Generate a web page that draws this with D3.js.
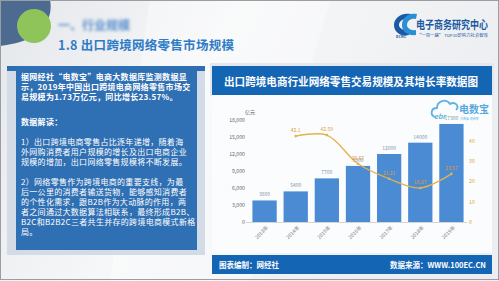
<!DOCTYPE html>
<html>
<head>
<meta charset="utf-8">
<script src="https://cdnjs.cloudflare.com/ajax/libs/d3/7.8.5/d3.min.js"></script>
<style>
  body { margin: 0; padding: 0; overflow: hidden; background: #fff; }
  svg text { font-family: "Noto Sans CJK SC", "Noto Sans", sans-serif; }
</style>
</head>
<body>
<div id="slide"></div>
<script>
// chart data
var years = ["2013年", "2014年", "2015年", "2016年", "2017年", "2018年", "2019年"];
var retailScale = [3800, 5400, 7700, 9900, 12000, 14000, 17300];   // 亿元
var growthRate = [null, 42.1, 42.59, 28.57, 21.21, 16.67, 23.57];  // %
var leftTicks = [0, 3000, 6000, 9000, 12000, 15000, 18000];
var rightTicks = [0, 10, 20, 30, 40];

var pageTitle = "1.8  出口跨境网络零售市场规模";
var chartTitle = "出口跨境电商行业网络零售交易规模及其增长率数据图";
var summaryLines = [
  "据网经社“电数宝”电商大数据库监测数据显",
  "示，2019年中国出口跨境电商网络零售市场交",
  "易规模为1.73万亿元，同比增长23.57%。"
];
var readingTitle = "数据解读：";
var readingLines1 = [
  "1）出口跨境电商零售占比逐年递增，随着海",
  "外网购消费者用户规模的增长及出口电商企业",
  "规模的增加，出口网络零售规模将不断发展。"
];
var readingLines2 = [
  "2）网络零售作为跨境电商的重要支线，为最",
  "后一公里的消费者输送货物，能够感知消费者",
  "的个性化需求，跟B2B作为大动脉的作用，两",
  "者之间通过大数据算法相联系，最终形成B2B、",
  "B2C和B2B2C三者共生并存的跨境电商模式新格",
  "局。"
];

Slide = function(_parentElement) {
  this.parentElement = _parentElement;
  this.width = 499;
  this.height = 281;
  this.initVis();
}

Slide.prototype.initVis = function() {
  var vis = this;

  vis.svg = d3.select("#" + vis.parentElement)
    .append("svg")
    .attr("width", vis.width)
    .attr("height", vis.height);

  var defs = vis.svg.append("defs");
  var grad = defs.append("linearGradient").attr("id", "bg")
    .attr("x1", "0").attr("y1", "0").attr("x2", "1").attr("y2", "0.3");
  grad.append("stop").attr("offset", "0").attr("stop-color", "#e4e7eb");
  grad.append("stop").attr("offset", "0.45").attr("stop-color", "#f6f7f8");
  grad.append("stop").attr("offset", "1").attr("stop-color", "#eceef1");
  defs.append("filter").attr("id", "blur")
    .append("feGaussianBlur").attr("stdDeviation", 1.6);

  vis.drawBackground();
  vis.drawTextPanel();
  vis.drawChart();
}

Slide.prototype.drawBackground = function() {
  var vis = this;
  var svg = vis.svg;

  svg.append("rect").attr("width", vis.width).attr("height", vis.height).attr("fill", "url(#bg)");
  svg.append("path").attr("d", "M150,0 L330,0 L250,281 L110,281 Z").attr("fill", "#ffffff").attr("opacity", 0.35);

  // top left decoration
  svg.append("path")
    .attr("d", "M0,0 L50,0 C53,14 46,30 30,38 C20,43 8,45 0,46 Z")
    .attr("fill", "#4d6a91");
  svg.append("circle").attr("cx", 34).attr("cy", 26).attr("r", 17).attr("fill", "#8fc45a");

  // blurred section header
  svg.append("text")
    .attr("x", 58).attr("y", 30)
    .attr("font-size", 12).attr("font-weight", "bold")
    .attr("fill", "#5a90cc")
    .attr("filter", "url(#blur)")
    .text("一、行业规模");

  svg.append("text")
    .attr("x", 58).attr("y", 50)
    .attr("font-size", 12.5).attr("font-weight", "bold")
    .attr("fill", "#2f7cc6")
    .attr("textLength", 176).attr("lengthAdjust", "spacing")
    .text(pageTitle);

  // ECRC logo
  var logo = svg.append("g");
  logo.append("path")
    .attr("d", "M411,14 C400,12 394,19 394,25 C394,32 401,37 409,35 L409,30 C403,31 399,28 399,25 C399,21 404,18 409,19 Z")
    .attr("fill", "#1b5aa3");
  logo.append("path")
    .attr("d", "M417,14 C407,12 402,19 402,25 C402,32 408,36 416,35 L416,30 C411,31 407,28 407,25 C407,21 411,18 416,19 Z")
    .attr("fill", "#2a8fd6");
  logo.append("text")
    .attr("transform", "translate(416,29) scale(1,1.3)")
    .attr("font-size", 9).attr("font-weight", "bold").attr("fill", "#1b5aa3")
    .attr("textLength", 72).attr("lengthAdjust", "spacingAndGlyphs")
    .text("电子商务研究中心");
  logo.append("text")
    .attr("x", 396).attr("y", 37.5)
    .attr("font-size", 4).attr("font-weight", "bold").attr("fill", "#1b5aa3")
    .text("ECRC");
  logo.append("text")
    .attr("x", 417).attr("y", 37)
    .attr("font-size", 4).attr("fill", "#1b5aa3")
    .attr("textLength", 71).attr("lengthAdjust", "spacingAndGlyphs")
    .text("“一带一路” TOP10影响力社会智库");

  // outer frame
  svg.append("rect")
    .attr("x", 0.5).attr("y", 0.5).attr("width", vis.width - 1).attr("height", vis.height - 2)
    .attr("fill", "none").attr("stroke", "#9a9ea3").attr("stroke-width", 1);
}

Slide.prototype.drawTextPanel = function() {
  var vis = this;
  var svg = vis.svg;

  svg.append("rect").attr("x", 7).attr("y", 66).attr("width", 198).attr("height", 189).attr("fill", "#d3dce6");
  svg.append("rect").attr("x", 7).attr("y", 66).attr("width", 198).attr("height", 5).attr("fill", "#2d6db3");
  svg.append("rect").attr("x", 16).attr("y", 66).attr("width", 181).attr("height", 184).attr("fill", "#2f6fb3");

  var addLines = function(lines, y0, bold) {
    svg.selectAll(null)
      .data(lines)
      .enter().append("text")
      .attr("x", 21)
      .attr("y", function(d, i) { return y0 + i * 10; })
      .attr("font-size", 8)
      .attr("letter-spacing", 0.3)
      .attr("font-weight", bold ? "bold" : "normal")
      .attr("fill", "#ffffff")
      .text(function(d) { return d; });
  }

  addLines(summaryLines, 80, true);
  addLines([readingTitle], 125, true);
  addLines(readingLines1, 145, false);
  addLines(readingLines2, 185, false);
}

Slide.prototype.drawChart = function() {
  var vis = this;
  var svg = vis.svg;

  // header, chart area, footer
  svg.append("rect").attr("x", 210).attr("y", 63).attr("width", 284).attr("height", 33).attr("fill", "#e3e8ee");
  svg.append("rect").attr("x", 212).attr("y", 66).attr("width", 280).attr("height", 29).attr("fill", "#1565b5");
  svg.append("text")
    .attr("x", 351).attr("y", 85.5)
    .attr("text-anchor", "middle")
    .attr("font-size", 11).attr("font-weight", "bold").attr("fill", "#ffffff")
    .attr("textLength", 254).attr("lengthAdjust", "spacingAndGlyphs")
    .text(chartTitle);
  svg.append("rect").attr("x", 212).attr("y", 95).attr("width", 280).attr("height", 158).attr("fill", "#fbfcfd");

  svg.append("rect").attr("x", 212).attr("y", 255).attr("width", 280).attr("height", 19).attr("fill", "#1565b5");
  svg.append("text")
    .attr("x", 219).attr("y", 267.5)
    .attr("font-size", 7.5).attr("font-weight", "bold").attr("fill", "#ffffff")
    .text("图表编制：网经社");
  svg.append("text")
    .attr("x", 486).attr("y", 267.5)
    .attr("text-anchor", "end")
    .attr("font-size", 7.5).attr("font-weight", "bold").attr("fill", "#ffffff")
    .text("数据来源：WWW.100EC.CN");

  // scales
  var x = d3.scaleBand().domain(years).range([249, 467]).paddingInner(0.22).paddingOuter(0.11);
  var yLeft = d3.scaleLinear().domain([0, 18000]).range([222, 120]);
  var yRight = d3.scaleLinear().domain([0, 50]).range([222, 120]);

  // left axis
  var leftAxis = svg.append("g")
    .attr("transform", "translate(246,0)")
    .call(d3.axisLeft(yLeft).tickValues(leftTicks).tickFormat(d3.format(",")).tickSize(0).tickPadding(1));
  leftAxis.select(".domain").remove();
  leftAxis.selectAll("text").attr("font-size", 5.2).attr("fill", "#666").attr("font-family", "Liberation Sans, Arial, sans-serif");
  svg.append("text")
    .attr("x", 245).attr("y", 114)
    .attr("font-size", 5).attr("fill", "#666")
    .text("亿元");

  // right axis
  var rightAxis = svg.append("g")
    .attr("transform", "translate(467,0)")
    .call(d3.axisRight(yRight).tickValues(rightTicks).tickSize(0).tickPadding(2));
  rightAxis.select(".domain").remove();
  rightAxis.selectAll("text").attr("font-size", 5.2).attr("fill", "#e2a437").attr("font-family", "Liberation Sans, Arial, sans-serif");

  // bars
  svg.selectAll(".bar")
    .data(retailScale)
    .enter().append("rect")
    .attr("class", "bar")
    .attr("x", function(d, i) { return x(years[i]); })
    .attr("y", function(d) { return yLeft(d); })
    .attr("width", x.bandwidth())
    .attr("height", function(d) { return yLeft(0) - yLeft(d); })
    .attr("fill", "#4a8bd4");

  svg.selectAll(".barLabel")
    .data(retailScale)
    .enter().append("text")
    .attr("class", "barLabel")
    .attr("x", function(d, i) { return x(years[i]) + x.bandwidth() / 2; })
    .attr("y", function(d) { return yLeft(d) - 4; })
    .attr("text-anchor", "middle")
    .attr("font-size", 5)
    .attr("fill", "#7f93ab")
    .text(function(d) { return d; });

  // baseline
  svg.append("line")
    .attr("x1", 246).attr("x2", 467)
    .attr("y1", yLeft(0) + 0.5).attr("y2", yLeft(0) + 0.5)
    .attr("stroke", "#c9c9c9").attr("stroke-width", 0.8);

  // x labels
  svg.selectAll(".xLabel")
    .data(years)
    .enter().append("text")
    .attr("class", "xLabel")
    .attr("transform", function(d) {
      return "translate(" + (x(d) + x.bandwidth() / 2 + 4) + ",228) rotate(-45)";
    })
    .attr("text-anchor", "end")
    .attr("font-size", 5)
    .attr("fill", "#777")
    .text(function(d) { return d; });

  // growth line
  var points = [];
  for (var i = 0; i < years.length; i++) {
    if (growthRate[i] != null)
      points.push({ year: years[i], value: growthRate[i] });
  }

  var line = d3.line()
    .x(function(d) { return x(d.year) + x.bandwidth() / 2; })
    .y(function(d) { return yRight(d.value); })
    .curve(d3.curveCatmullRom.alpha(0.5));

  svg.append("path")
    .datum(points)
    .attr("d", line)
    .attr("fill", "none")
    .attr("stroke", "#e2b448")
    .attr("stroke-width", 1.3);

  svg.selectAll(".dot")
    .data(points)
    .enter().append("circle")
    .attr("class", "dot")
    .attr("cx", function(d) { return x(d.year) + x.bandwidth() / 2; })
    .attr("cy", function(d) { return yRight(d.value); })
    .attr("r", 1.3)
    .attr("fill", "#e2b448");

  svg.selectAll(".lineLabel")
    .data(points)
    .enter().append("text")
    .attr("class", "lineLabel")
    .attr("x", function(d) { return x(d.year) + x.bandwidth() / 2; })
    .attr("y", function(d) { return yRight(d.value) - 4; })
    .attr("text-anchor", "middle")
    .attr("font-size", 5)
    .attr("fill", "#e09a2e")
    .text(function(d) { return d.value; });

  // 电数宝 logo
  var logo = svg.append("g");
  logo.append("path")
    .attr("d", "M436,117 C430,117 430,108 437,108 C437,101 446,98 450,104 C455,101 460,106 456,110")
    .attr("fill", "none").attr("stroke", "#5fb2e3").attr("stroke-width", 1.8);
  logo.append("text")
    .attr("x", 434).attr("y", 119)
    .attr("font-size", 7).attr("font-style", "italic").attr("font-weight", "bold")
    .attr("fill", "#5fb2e3").attr("font-family", "DejaVu Serif, serif")
    .text("ebr");
  logo.append("text")
    .attr("x", 459).attr("y", 113)
    .attr("font-size", 10).attr("font-weight", "bold").attr("fill", "#58a8de")
    .attr("textLength", 30).attr("lengthAdjust", "spacingAndGlyphs")
    .text("电数宝");
  logo.append("text")
    .attr("x", 460).attr("y", 120)
    .attr("font-size", 3).attr("fill", "#6fb7e3")
    .text("大数据 电商库");
}

var slide = new Slide("slide");
</script>
</body>
</html>
